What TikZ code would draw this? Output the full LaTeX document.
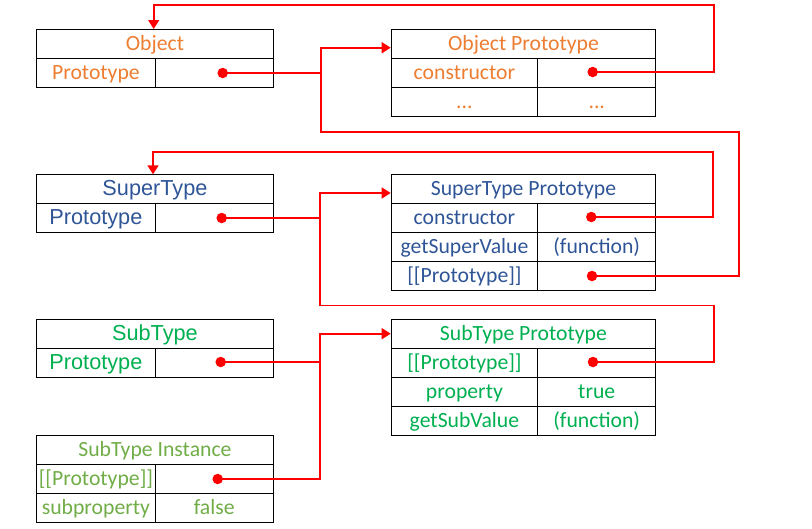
\documentclass[tikz,border=0pt]{standalone}
\usepackage{fontspec}
\setmainfont{Carlito}
\newfontfamily\arialf{Liberation Sans}
\usetikzlibrary{arrows.meta}
\definecolor{cOrange}{RGB}{237,125,49}
\definecolor{cBlue}{RGB}{47,85,151}
\definecolor{cGreen}{RGB}{0,176,80}
\definecolor{cLGreen}{RGB}{112,173,71}
\begin{document}
\begin{tikzpicture}[x=1pt,y=-1pt,
  cell/.style={draw=black, line width=0.9pt, rectangle, anchor=north west, inner sep=0pt,
    minimum height=29pt, text height=14pt, text depth=1pt,
    font=\fontsize{21.7pt}{24pt}\selectfont},
  lw/.style={cell, minimum width=236.4pt},
  lh/.style={cell, minimum width=118.3pt},
  rw/.style={cell, minimum width=264.6pt},
  rl/.style={cell, minimum width=146.6pt},
  rr/.style={cell, minimum width=118pt},
  ar/.style={font=\arialf\fontsize{21.7pt}{24pt}\selectfont},
  dot/.style={circle, fill=red, inner sep=0pt, minimum size=10.5pt},
  conn/.style={draw=red, line width=1.6pt},
  arr/.style={conn, -{Triangle[length=9pt,width=11pt]}}
]
\useasboundingbox (0,0) rectangle (812,528);

% Object
\node[lw, text=cOrange] (objH) at (36.3,29) {Object};
\node[lh, text=cOrange] (objPL) at (36.3,58) {Prototype};
\node[lh] (objPR) at (154.6,58) {};
\node[dot] (objD) at (222.7,73) {};

% Object Prototype
\node[rw, text=cOrange] (opH) at (390.7,29.3) {Object Prototype};
\node[rl, text=cOrange] (opCL) at (390.7,58.3) {constructor};
\node[rr] (opCR) at (537.3,58.3) {};
\node[rl, text=cOrange] (opEL) at (390.7,87.3) {...};
\node[rr, text=cOrange] (opER) at (537.3,87.3) {...};
\node[dot] (opD) at (592.7,72) {};

% SuperType
\node[lw, ar, text=cBlue] (stH) at (36.3,174.3) {SuperType};
\node[lh, ar, text=cBlue] (stPL) at (36.3,203.3) {Prototype};
\node[lh] (stPR) at (154.6,203.3) {};
\node[dot] (stD) at (221.7,218) {};

% SuperType Prototype
\node[rw, text=cBlue] (spH) at (390.7,174.3) {SuperType Prototype};
\node[rl, text=cBlue] (spCL) at (390.7,203.3) {constructor};
\node[rr] (spCR) at (537.3,203.3) {};
\node[rl, text=cBlue] (spGL) at (390.7,232.3) {getSuperValue};
\node[rr, text=cBlue] (spGR) at (537.3,232.3) {(function)};
\node[rl, text=cBlue] (spPL) at (390.7,261.3) {[[Prototype]]};
\node[rr] (spPR) at (537.3,261.3) {};
\node[dot] (spCD) at (591.3,217) {};
\node[dot] (spPD) at (592,276) {};

% SubType
\node[lw, ar, text=cGreen] (sbH) at (36.3,319.3) {SubType};
\node[lh, ar, text=cGreen] (sbPL) at (36.3,348.3) {Prototype};
\node[lh] (sbPR) at (154.6,348.3) {};
\node[dot] (sbD) at (220.7,362) {};

% SubType Prototype
\node[rw, text=cGreen] (sppH) at (390.7,319.3) {SubType Prototype};
\node[rl, text=cGreen] (sppPL) at (390.7,348.3) {[[Prototype]]};
\node[rr] (sppPR) at (537.3,348.3) {};
\node[rl, text=cGreen] (sppRL) at (390.7,377.3) {property};
\node[rr, text=cGreen] (sppRR) at (537.3,377.3) {true};
\node[rl, text=cGreen] (sppGL) at (390.7,406.3) {getSubValue};
\node[rr, text=cGreen] (sppGR) at (537.3,406.3) {(function)};
\node[dot] (sppD) at (593,362) {};

% SubType Instance
\node[lw, text=cLGreen] (siH) at (36.3,435.3) {SubType Instance};
\node[lh, text=cLGreen] (siPL) at (36.3,464.3) {[[Prototype]]};
\node[lh] (siPR) at (154.6,464.3) {};
\node[lh, text=cLGreen] (siSL) at (36.3,493.3) {subproperty};
\node[lh, text=cLGreen] (siSR) at (154.6,493.3) {false};
\node[dot] (siD) at (217.7,479) {};

% connectors
\coordinate (j1) at (321,73);
\draw[conn] (objD.center) -- (j1);
\draw[arr] (spPD.center) -- (738.7,276) -- (738.7,131.7) -- (321,131.7) -- (321,47.7) -- (opH.west |- 0,47.7);
\draw[arr] (opD.center) -- (713.7,72) -- (713.7,5) -- (153.7,5) -- (153.7,0 |- objH.north);

\coordinate (j2) at (320,218);
\draw[conn] (stD.center) -- (j2);
\draw[arr] (sppD.center) -- (713.7,362) -- (713.7,305.3) -- (320,305.3) -- (320,193) -- (spH.west |- 0,193);
\draw[arr] (spCD.center) -- (712.7,217) -- (712.7,152) -- (153,152) -- (153,0 |- stH.north);

\coordinate (j3) at (320,362);
\draw[conn] (sbD.center) -- (j3);
\draw[arr] (siD.center) -- (320,479) -- (320,333.7) -- (sppH.west |- 0,333.7);
\end{tikzpicture}
\end{document}
